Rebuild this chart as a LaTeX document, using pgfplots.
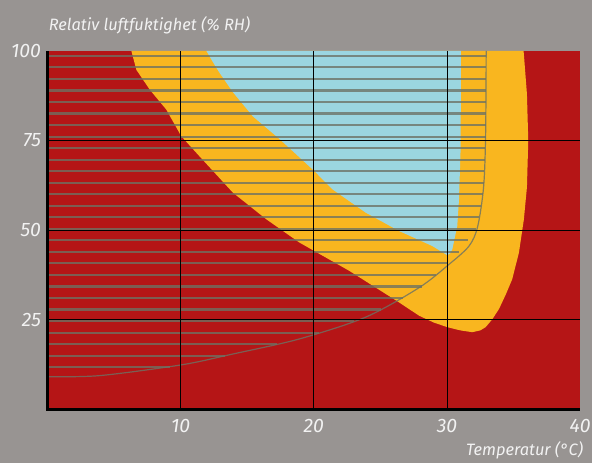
\documentclass[border=0pt]{standalone}
\usepackage{fontspec}
\setmainfont{Fira Sans}
\usepackage{pgfplots}
\pgfplotsset{compat=1.18}

\definecolor{bg}{RGB}{152,148,146}
\definecolor{fukt}{RGB}{181,21,22}
\definecolor{mellan}{RGB}{249,182,31}
\definecolor{bra}{RGB}{155,214,224}
\definecolor{streck}{RGB}{108,114,100}
\definecolor{txt}{RGB}{242,242,242}

\begin{document}
\begin{tikzpicture}
\begin{axis}[
  scale only axis,
  width=534.5pt, height=360pt,
  xmin=0, xmax=40, ymin=0, ymax=100,
  clip=false,
  axis on top,
  axis line style={draw=none},
  xtick={10,20,30,40}, ytick={25,50,75,100},
  extra x ticks={10,20,30}, extra y ticks={25,50,75},
  extra x tick labels={}, extra y tick labels={},
  extra tick style={grid=major},
  major grid style={black, line width=1pt},
  major tick length=0pt,
  tick style={draw=none},
  /pgf/number format/assume math mode=true,
  ticklabel style={font=\fontsize{19.5}{21}\selectfont\itshape, text=txt},
  xticklabel style={yshift=-6pt},
  yticklabel style={xshift=-3pt},
  label style={font=\fontsize{16.5}{19}\selectfont\itshape, text=txt},
  xlabel={Temperatur (°C)},
  xlabel style={at={(rel axis cs:1.012,-0.114)}, anchor=east},
  ylabel={Relativ luftfuktighet (\% RH)},
  ylabel style={at={(rel axis cs:-0.004,1.072)}, anchor=west, rotate=-90},
]
% bakgrund
\fill[bg] (axis cs:-3.56,-14.72) rectangle (axis cs:40.9,114.17);

% hela ytan: rod
\addplot[draw=none, fill=fukt] coordinates {(0,0)(40,0)(40,100)(0,100)} --cycle;

% orange zon
\addplot[draw=none, fill=mellan] coordinates {
  (6.3,100)(6.68,94.7)(7.68,89.2)(8.93,83.6)(10.05,76.2)(11.42,70.6)
  (13.92,60.5)(16.42,53.1)(18.91,46.6)(22.66,38.7)(26.4,29.9)(27.9,26.2)
  (29.0,24.3)(30.02,23)(31.0,22.1)(31.9,21.6)(32.5,22.1)(32.9,23)
  (33.4,25.2)(33.9,28.05)(34.4,32)(34.9,36.4)(35.4,43.8)(35.77,53)
  (36,62)(36.1,75)(36,88)(35.75,100)} --cycle;

% bla zon
\addplot[draw=none, fill=bra] coordinates {
  (11.93,100)(12.4,97)(12.9,94)(13.92,88.5)(15.42,81.75)(17.4,75.5)(18.9,70.4)
  (20.04,66.5)(21.4,61.4)(23.9,54.9)(26.4,49.8)(28.9,45.6)(29.6,44)
  (30.02,43.05)(30.25,43.6)(30.4,44.7)(30.77,51.2)(30.9,58.6)(31.02,72.5)
  (31.05,100)} --cycle;

% streck
\addplot[streck, opacity=0.78, line width=2.1pt, unbounded coords=jump] coordinates {
  (0,98.60)(32.94,98.60) (nan,nan)
  (0,95.39)(32.94,95.39) (nan,nan)
  (0,92.17)(32.93,92.17) (nan,nan)
  (0,88.96)(32.92,88.96) (nan,nan)
  (0,85.75)(32.92,85.75) (nan,nan)
  (0,82.54)(32.91,82.54) (nan,nan)
  (0,79.32)(32.90,79.32) (nan,nan)
  (0,76.11)(32.89,76.11) (nan,nan)
  (0,72.90)(32.86,72.90) (nan,nan)
  (0,69.68)(32.83,69.68) (nan,nan)
  (0,66.47)(32.80,66.47) (nan,nan)
  (0,63.26)(32.76,63.26) (nan,nan)
  (0,60.04)(32.68,60.04) (nan,nan)
  (0,56.83)(32.55,56.83) (nan,nan)
  (0,53.62)(32.38,53.62) (nan,nan)
  (0,50.40)(32.15,50.40) (nan,nan)
  (0,47.19)(31.60,47.19) (nan,nan)
  (0,43.98)(30.90,43.98) (nan,nan)
  (0,40.76)(30.10,40.76) (nan,nan)
  (0,37.55)(29.20,37.55) (nan,nan)
  (0,34.34)(28.10,34.34) (nan,nan)
  (0,31.12)(26.70,31.12) (nan,nan)
  (0,27.91)(25.05,27.91) (nan,nan)
  (0,24.70)(23.00,24.70) (nan,nan)
  (0,21.49)(20.40,21.49) (nan,nan)
  (0,18.27)(17.20,18.27) (nan,nan)
  (0,15.06)(13.30,15.06) (nan,nan)
  (0,11.85)(9.20,11.85)};

% grans
\addplot[streck, opacity=0.8, line width=1.2pt, smooth] coordinates {
  (0,9.2)(3.93,9.5)(10.07,12.5)(13.9,15.5)(18.9,19.7)(23.9,25.8)(27.9,34)
  (30.15,40.5)(31.65,45.6)(32.3,51)(32.75,62.2)(32.9,77)(32.94,100)};

% axlar
\draw[black, line width=3pt] (axis cs:0,100) -- (axis cs:0,0) -- (axis cs:40,0);
\end{axis}
\end{tikzpicture}
\end{document}
